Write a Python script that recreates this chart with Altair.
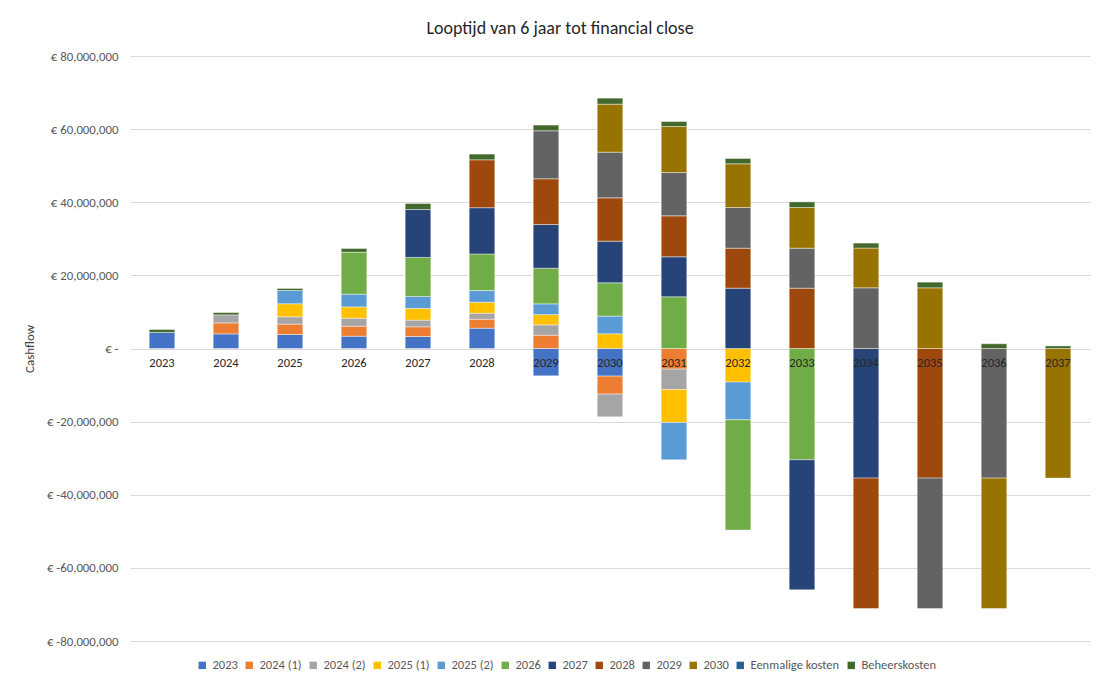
import altair as alt
import pandas as pd

years = [str(y) for y in range(2023, 2038)]

series_names = ["2023", "2024 (1)", "2024 (2)", "2025 (1)", "2025 (2)", "2026",
                "2027", "2028", "2029", "2030", "Eenmalige kosten", "Beheerskosten"]
series_colors = ["#4472C4", "#ED7D31", "#A5A5A5", "#FFC000", "#5B9BD5", "#70AD47",
                 "#264478", "#9E480E", "#636363", "#997300", "#255E91", "#43682B"]

# values in millions of euros, one entry per year 2023..2037
s2023 = [4.4, 4.0, 3.83, 3.36, 3.28, 5.55, -7.47, -7.55, 0, 0, 0, 0, 0, 0, 0]
s2024_1 = [0, 3.0, 2.84, 2.74, 2.65, 2.46, 3.64, -4.92, -5.63, 0, 0, 0, 0, 0, 0]
s2024_2 = [0, 2.2, 2.0, 2.19, 1.83, 1.64, 2.82, -6.2, -5.58, 0, 0, 0, 0, 0, 0]
s2025_1 = [0, 0, 3.56, 3.09, 3.2, 3.0, 2.82, 4.02, -9.03, -9.19, 0, 0, 0, 0, 0]
s2025_2 = [0, 0, 3.64, 3.47, 3.28, 3.2, 2.93, 4.84, -10.2, -10.31, 0, 0, 0, 0, 0]
s2026 = [0, 0, 0, 11.5, 10.67, 10.0, 9.76, 9.1, 14.14, -30.17, -30.44, 0, 0, 0, 0]
s2027 = [0, 0, 0, 0, 13.1, 12.66, 11.95, 11.4, 10.94, 16.5, -35.56, -35.45, 0, 0, 0]
s2028 = [0, 0, 0, 0, 0, 13.1, 12.5, 11.84, 11.21, 10.94, 16.5, -35.67, -35.45, 0, 0]
s2029 = [0, 0, 0, 0, 0, 0, 13.13, 12.5, 11.84, 11.13, 10.94, 16.6, -35.67, -35.45, 0]
s2030 = [0, 0, 0, 0, 0, 0, 0, 13.13, 12.58, 11.95, 11.13, 10.86, 16.6, -35.67, -35.45]
eenmalig = [0] * 15
beheer = [0.8, 0.63, 0.55, 1.0, 1.64, 1.56, 1.56, 1.64, 1.37, 1.45, 1.53, 1.37, 1.55, 1.3, 0.7]

all_series = [s2023, s2024_1, s2024_2, s2025_1, s2025_2, s2026,
              s2027, s2028, s2029, s2030, eenmalig, beheer]

rows = []
for idx, (name, vals) in enumerate(zip(series_names, all_series)):
    for yr, v in zip(years, vals):
        if v != 0:
            rows.append({"jaar": yr, "serie": name, "idx": idx, "waarde": v * 1e6})
df = pd.DataFrame(rows)

FONT = "Carlito, Calibri, Lato, sans-serif"

y_label_expr = ("datum.value == 0 ? '€ -\u00a0\u00a0\u00a0' : (datum.value < 0 ? "
                "'€ -' + format(-datum.value, ',') : '€ ' + format(datum.value, ','))")

H = 585
W = 960

chart = alt.Chart(df).mark_bar(stroke="#ffffff", strokeWidth=0.6, strokeOpacity=0.7).encode(
    x=alt.X("jaar:N", sort=years, title=None,
            scale=alt.Scale(domain=years, paddingInner=0.6, paddingOuter=0.3),
            axis=alt.Axis(orient="bottom", offset=-H / 2, domain=False, ticks=False,
                          labelAngle=0, labelPadding=8, labelFontSize=12.5,
                          labelColor="#262626", labelFont=FONT, zindex=1, grid=False)),
    y=alt.Y("waarde:Q", stack="zero", title="Cashflow",
            scale=alt.Scale(domain=[-80e6, 80e6], nice=False),
            axis=alt.Axis(values=[-80e6, -60e6, -40e6, -20e6, 0, 20e6, 40e6, 60e6, 80e6],
                          labelExpr=y_label_expr, domain=False, ticks=False,
                          labelPadding=12, labelFontSize=12.8, labelColor="#595959",
                          labelFont=FONT, gridColor="#D9D9D9", gridWidth=1,
                          titleFont=FONT, titleFontSize=13, titleFontWeight="normal",
                          titleColor="#404040", titlePadding=10)),
    color=alt.Color("serie:N", title=None,
                    scale=alt.Scale(domain=series_names, range=series_colors),
                    legend=alt.Legend(orient="none", legendX=66, legendY=603,
                                      direction="horizontal", columns=12,
                                      symbolType="square", symbolSize=55,
                                      symbolStrokeWidth=0, labelFont=FONT,
                                      labelFontSize=12.5, labelColor="#595959",
                                      columnPadding=5, labelOffset=4)),
    order=alt.Order("idx:Q", sort="ascending"),
).properties(
    width=W,
    height=H,
    title=alt.TitleParams("Looptijd van 6 jaar tot financial close", font=FONT,
                          fontSize=18, fontWeight="normal", color="#262626",
                          offset=12, dx=-50),
    autosize=alt.AutoSizeParams(type="none"),
    padding={"left": 122, "top": 48, "right": 2, "bottom": 38},
).configure_view(stroke=None)

chart.save("out.html", embed_options={"renderer": "svg", "actions": False})
